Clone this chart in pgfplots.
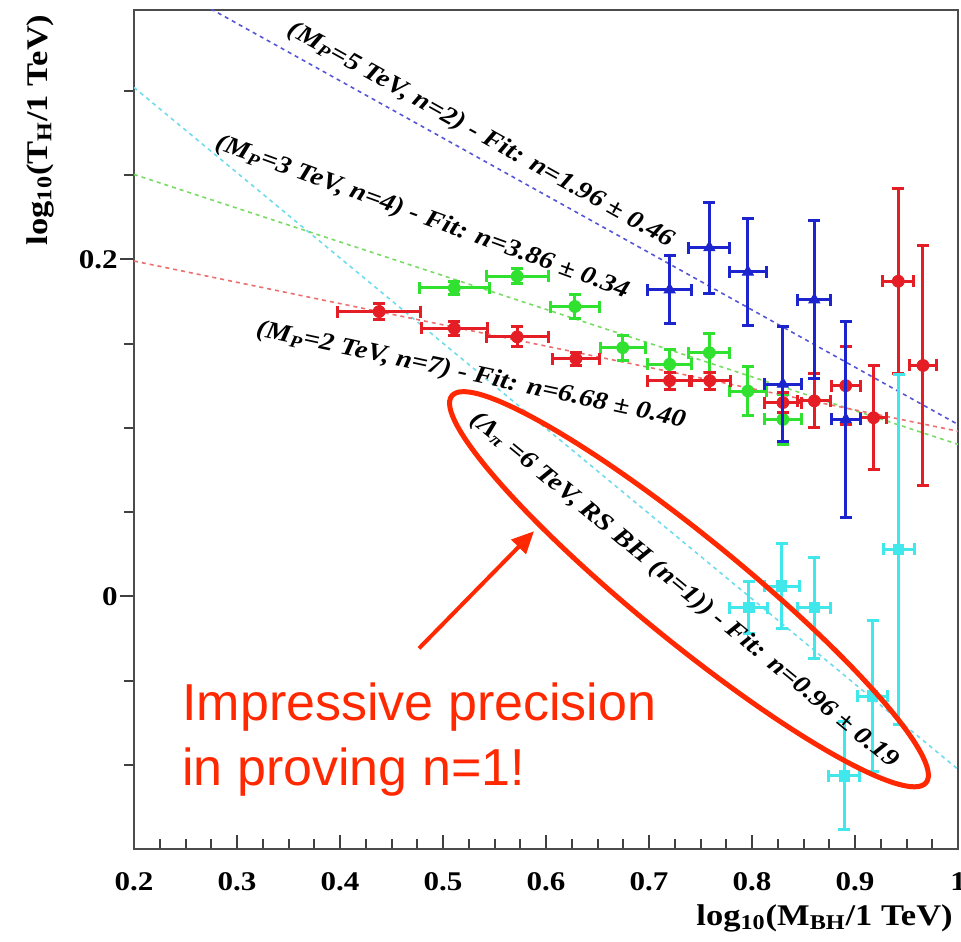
\documentclass[border=0pt]{standalone}
\usepackage{pgfplots}
\pgfplotsset{compat=1.18}
\usepackage{fontspec}
\usetikzlibrary{arrows.meta,shapes.geometric}
\setmainfont{Liberation Serif}
\newfontfamily\labfont[FakeStretch=1.15]{Liberation Serif}
\newfontfamily\annfont{Liberation Sans}
\definecolor{cred}{RGB}{228,30,36}
\definecolor{cblue}{RGB}{28,36,205}
\definecolor{cgreen}{RGB}{48,225,48}
\definecolor{ccyan}{RGB}{64,232,236}
\definecolor{lred}{RGB}{236,110,110}
\definecolor{lblue}{RGB}{85,85,215}
\definecolor{lgreen}{RGB}{120,220,100}
\definecolor{lcyan}{RGB}{110,220,235}
\definecolor{anno}{RGB}{255,40,0}
\pgfplotstableread{
x y ex ey
0.438 0.169 0.040 0.005
0.511 0.159 0.032 0.004
0.572 0.154 0.030 0.006
0.629 0.141 0.023 0.004
0.720 0.128 0.021 0.005
0.759 0.128 0.020 0.005
0.830 0.115 0.018 0.006
0.8605 0.116 0.016 0.016
0.891 0.125 0.014 0.023
0.918 0.106 0.013 0.031
0.942 0.187 0.015 0.055
0.966 0.137 0.013 0.071
}\redtab
\pgfplotstableread{
x y ex ey
0.720 0.182 0.021 0.020
0.7586 0.207 0.020 0.027
0.796 0.1925 0.018 0.032
0.830 0.126 0.018 0.034
0.8605 0.176 0.016 0.047
0.891 0.105 0.014 0.058
}\bluetab
\pgfplotstableread{
x y ex ey
0.511 0.183 0.034 0.004
0.572 0.190 0.030 0.0045
0.628 0.172 0.024 0.0074
0.6745 0.1476 0.022 0.0074
0.720 0.1377 0.021 0.0086
0.7586 0.1446 0.020 0.0115
0.796 0.1218 0.018 0.0145
0.830 0.105 0.018 0.015
}\greentab
\pgfplotstableread{
x y ex ey
0.7968 -0.0067 0.0186 0.0155
0.8288 0.0061 0.017 0.025
0.8605 -0.0067 0.016 0.030
0.8896 -0.1066 0.015 0.032
0.917 -0.0592 0.0146 0.045
0.9424 0.0279 0.015 0.104
}\cyantab
\begin{document}
\begin{tikzpicture}
\begin{axis}[
  scale only axis, width=412pt, height=419.5pt,
  xmin=0.2, xmax=1.0, ymin=-0.15, ymax=0.348,
  clip mode=individual,
  xtick={0.2,0.3,0.4,0.5,0.6,0.7,0.8,0.9,1.0},
  xticklabels={0.2,0.3,0.4,0.5,0.6,0.7,0.8,0.9,1},
  minor x tick num=3,
  ytick={0,0.2}, yticklabels={0,0.2},
  minor ytick={-0.1,-0.05,0.05,0.1,0.15,0.25,0.3},
  xtick pos=bottom, ytick pos=left,
  xtick align=inside, ytick align=outside,
  major tick length=7pt, minor tick length=5pt,
  tick style={black!75, line width=1pt},
  axis line style={draw=black!70, line width=1.2pt},
  tick label style={font=\labfont\bfseries\fontsize{13.5}{14}\selectfont},
  xticklabel style={anchor=base, yshift=-20.5pt},
  yticklabel style={inner sep=0pt, xshift=-1pt},
  xlabel={log\textsubscript{10}(M\textsubscript{BH}/1 TeV)},
  ylabel={log\textsubscript{10}(T\textsubscript{H}/1 TeV)},
  every axis x label/.style={at={(axis description cs:0.994,-0.0906)}, anchor=base east, inner sep=0pt, font=\labfont\bfseries\fontsize{15}{15}\selectfont},
  every axis y label/.style={at={(axis description cs:-0.114,0.995)}, rotate=90, anchor=east, inner sep=0pt, font=\labfont\bfseries\fontsize{15}{15}\selectfont},
  error bars/error bar style={line width=1.5pt},
  error bars/error mark options={rotate=90, mark size=3pt, line width=1.5pt},
]
% fit lines
\addplot[lblue, line width=0.8pt, dash pattern=on 2pt off 2pt, forget plot] coordinates {(0.2,0.374) (1.0,0.102)};
\addplot[lcyan, line width=0.8pt, dash pattern=on 2pt off 2pt, forget plot] coordinates {(0.2,0.302) (1.0,-0.1027)};
\addplot[lgreen, line width=0.8pt, dash pattern=on 2pt off 2pt, forget plot] coordinates {(0.2,0.2504) (1.0,0.0902)};
\addplot[lred, line width=0.8pt, dash pattern=on 2pt off 2pt, forget plot] coordinates {(0.2,0.199) (1.0,0.098)};
% data
\addplot[cgreen, only marks, mark=*, mark size=3pt,
  error bars/.cd, x dir=both, x explicit, y dir=both, y explicit]
  table[x=x, y=y, x error=ex, y error=ey] {\greentab};
\addplot[cred, only marks, mark=*, mark size=3pt,
  error bars/.cd, x dir=both, x explicit, y dir=both, y explicit]
  table[x=x, y=y, x error=ex, y error=ey] {\redtab};
\addplot[cblue, only marks, mark=triangle*, mark size=3.2pt,
  error bars/.cd, x dir=both, x explicit, y dir=both, y explicit]
  table[x=x, y=y, x error=ex, y error=ey] {\bluetab};
\addplot[ccyan, only marks, mark=square*, mark size=2.6pt,
  error bars/.cd, x dir=both, x explicit, y dir=both, y explicit]
  table[x=x, y=y, x error=ex, y error=ey] {\cyantab};
% fit annotations
\node[rotate=-29.2, font=\labfont\bfseries\itshape\fontsize{12.4}{12}\selectfont] at (axis cs:0.537,0.2736) {(M\textsubscript{P}=5 TeV, n=2) - Fit: n=1.96 ± 0.46};
\node[rotate=-20.0, font=\labfont\bfseries\itshape\fontsize{12.4}{12}\selectfont] at (axis cs:0.4796,0.2249) {(M\textsubscript{P}=3 TeV, n=4) - Fit: n=3.86 ± 0.34};
\node[rotate=-12.1, font=\labfont\bfseries\itshape\fontsize{12.4}{12}\selectfont] at (axis cs:0.527,0.1312) {(M\textsubscript{P}=2 TeV, n=7) - Fit: n=6.68 ± 0.40};
\node[rotate=-39.5, font=\labfont\bfseries\itshape\fontsize{12.4}{12}\selectfont] at (axis cs:0.734,0.0035) {(Λ\textsubscript{π} =6 TeV, RS BH (n=1)) - Fit: n=0.96 ± 0.19};
% red annotation
\node[draw=anno, line width=2.5pt, ellipse, minimum width=306pt, minimum height=52pt, inner sep=0pt, rotate=-39.2] at (axis cs:0.7388,0.0042) {};
\draw[anno, line width=2pt, -{Triangle[length=11pt, width=10pt]}] (axis cs:0.4767,-0.0309) -- (axis cs:0.5883,0.0386);
\node[anchor=base west, inner sep=0pt, text=anno, font=\annfont\fontsize{26}{30}\selectfont] at (axis cs:0.2466,-0.0736) {Impressive precision};
\node[anchor=base west, inner sep=0pt, text=anno, font=\annfont\fontsize{26}{30}\selectfont] at (axis cs:0.2466,-0.1122) {in proving n=1!};
\coordinate (SW) at (rel axis cs:0,0);
\coordinate (NE) at (rel axis cs:1,1);
\end{axis}
\pgfresetboundingbox
\path ([shift={(-67pt,-46pt)}]SW) rectangle ([shift={(1.5pt,5pt)}]NE);
\end{tikzpicture}
\end{document}
